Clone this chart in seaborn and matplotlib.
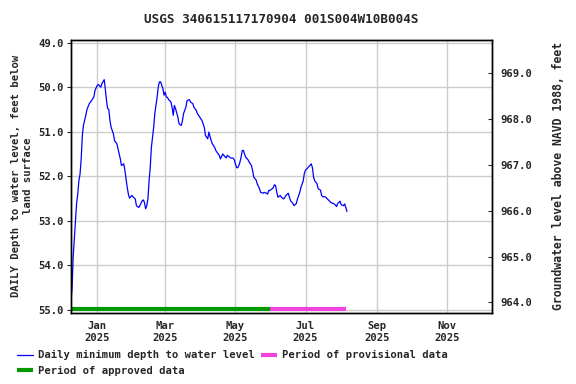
import pandas as pd
import matplotlib
matplotlib.use('Agg')
import matplotlib.pyplot as plt
import matplotlib.dates as mdates
import seaborn as sns

# days after 2025-01-01 and daily minimum depth (ft below land surface)
day_offsets = [-23, -22, -21, -20, -19, -18, -17, -16, -15, -14, -13, -12, -10, -9, -7, -5, -3, -2,
               0, 1, 3, 4, 6, 7, 8, 9, 10, 11, 12, 14, 15, 17, 18, 20, 21, 23, 24, 26, 27, 28,
               30, 31, 33, 34, 36, 37, 39, 40, 41, 42, 43, 44, 45, 46, 47, 49, 50, 52, 53, 54,
               55, 57, 58, 59, 60, 61, 62, 64, 65, 66, 67, 68, 70, 71, 73, 74, 75, 77, 78, 80,
               81, 83, 84, 86, 87, 89, 90, 91, 93, 94, 96, 97, 99, 100, 102, 103, 104, 106, 107, 109,
               110, 112, 113, 115, 116, 118, 119, 121, 122, 123, 124, 125, 126, 127, 128, 129, 131, 132, 134, 135,
               136, 138, 139, 141, 142, 144, 145, 147, 148, 149, 150, 152, 153, 154, 155, 156, 157, 159, 160, 162,
               163, 164, 166, 167, 168, 170, 171, 173, 174, 176, 177, 179, 180, 181, 183, 184, 186, 187, 188, 189,
               191, 192, 194, 195, 196, 198, 199, 200, 202, 203, 205, 206, 208, 209, 211, 212, 214, 215, 216, 217]
depth = [54.80, 54.55, 53.82, 53.40, 52.95, 52.60, 52.40, 52.10, 51.95, 51.60, 51.08, 50.85, 50.63, 50.50, 50.37, 50.30, 50.22, 50.07,
         49.96, 49.94, 50.00, 49.92, 49.83, 50.05, 50.30, 50.48, 50.50, 50.75, 50.90, 51.05, 51.20, 51.27, 51.38, 51.61, 51.76, 51.72, 51.87, 52.25, 52.40, 52.49,
         52.43, 52.46, 52.51, 52.66, 52.70, 52.66, 52.55, 52.53, 52.59, 52.73, 52.66, 52.51, 52.10, 51.80, 51.35, 50.90, 50.59, 50.22, 49.99, 49.88,
         49.88, 50.03, 50.18, 50.11, 50.22, 50.23, 50.28, 50.33, 50.45, 50.63, 50.41, 50.48, 50.67, 50.82, 50.86, 50.75, 50.59, 50.45, 50.30, 50.28,
         50.33, 50.37, 50.45, 50.52, 50.59, 50.67, 50.71, 50.75, 50.90, 51.08, 51.16, 51.01, 51.20, 51.27, 51.35, 51.42, 51.46, 51.53, 51.61, 51.50,
         51.53, 51.59, 51.53, 51.57, 51.59, 51.59, 51.63, 51.80, 51.81, 51.76, 51.68, 51.57, 51.42, 51.42, 51.50, 51.57, 51.63, 51.68, 51.76, 51.87,
         52.02, 52.08, 52.17, 52.28, 52.36, 52.38, 52.36, 52.38, 52.40, 52.32, 52.32, 52.28, 52.25, 52.19, 52.21, 52.36, 52.47, 52.43, 52.47, 52.51,
         52.47, 52.43, 52.38, 52.47, 52.55, 52.61, 52.66, 52.61, 52.51, 52.36, 52.25, 52.10, 51.93, 51.86, 51.81, 51.78, 51.72, 51.81, 52.02, 52.10,
         52.17, 52.28, 52.31, 52.43, 52.46, 52.46, 52.48, 52.51, 52.56, 52.59, 52.61, 52.62, 52.68, 52.61, 52.56, 52.64, 52.66, 52.62, 52.70, 52.79]

approved_period = ['2024-12-09', '2025-05-31']
provisional_period = ['2025-05-31', '2025-08-05']
month_ticks = ['2025-01-01', '2025-03-01', '2025-05-01', '2025-07-01', '2025-09-01', '2025-11-01']
left_ticks = [49.0, 50.0, 51.0, 52.0, 53.0, 54.0, 55.0]
right_ticks = [969.0, 968.0, 967.0, 966.0, 965.0, 964.0]

df = pd.DataFrame({
    'date': pd.Timestamp('2025-01-01') + pd.to_timedelta(day_offsets, unit='D'),
    'depth': depth,
})

sns.set_style('white')
plt.rcParams['font.family'] = ['DejaVu Sans Mono']
plt.rcParams['font.weight'] = 'bold'
plt.rcParams['axes.titleweight'] = 'bold'
plt.rcParams['axes.labelweight'] = 'bold'
plt.rcParams['font.size'] = 7.6

fig = plt.figure(figsize=(5.76, 3.84), dpi=100)
ax = fig.add_axes([0.123, 0.186, 0.731, 0.711])

sns.lineplot(data=df, x='date', y='depth', ax=ax, color='#0000ff', lw=0.9,
             label='Daily minimum depth to water level')
bar_y = 54.98
ax.plot(pd.to_datetime(approved_period), [bar_y, bar_y], color='#009900', lw=3,
        solid_capstyle='butt', label='Period of approved data')
ax.plot(pd.to_datetime(provisional_period), [bar_y, bar_y], color='#ee44dd', lw=3,
        solid_capstyle='butt', label='Period of provisional data')

ax.set_xlim(pd.Timestamp('2024-12-09'), pd.Timestamp('2025-12-10'))
ax.set_ylim(55.06, 48.93)
ax.set_yticks(left_ticks)
ax.set_yticklabels([f'{v:.1f}' for v in left_ticks])
ax.set_xticks(pd.to_datetime(month_ticks))
ax.xaxis.set_major_formatter(mdates.DateFormatter('%b\n%Y'))
ax.grid(True, color='#cccccc', lw=1)
ax.tick_params(axis='x', length=0, pad=6)
ax.tick_params(axis='y', length=3, direction='out', pad=2)
for s in ax.spines.values():
    s.set_color('black')
    s.set_linewidth(1)
ax.set_xlabel('')
ax.set_ylabel('DAILY Depth to water level, feet below\nland surface', labelpad=4)
ax.set_title('USGS 340615117170904 001S004W10B004S', pad=12)

ax2 = ax.twinx()
ax2.set_ylim(963.78, 969.737)
ax2.set_yticks(right_ticks)
ax2.set_yticklabels([f'{v:.1f}' for v in right_ticks])
ax2.tick_params(axis='y', length=3, direction='in', pad=6)
ax2.set_ylabel('Groundwater level above NAVD 1988, feet', labelpad=14, fontsize=8.3)
for s in ax2.spines.values():
    s.set_color('black')
    s.set_linewidth(1)

handles, labels = ax.get_legend_handles_labels()
ax.get_legend().remove()
fig.legend(handles, labels, loc='upper left', bbox_to_anchor=(0.029, 0.088), ncol=2,
           frameon=False, handlelength=1.5, handletextpad=0.5, columnspacing=0.6,
           labelspacing=0.55, borderaxespad=0, borderpad=0)

fig.savefig('out.png', dpi=100)
